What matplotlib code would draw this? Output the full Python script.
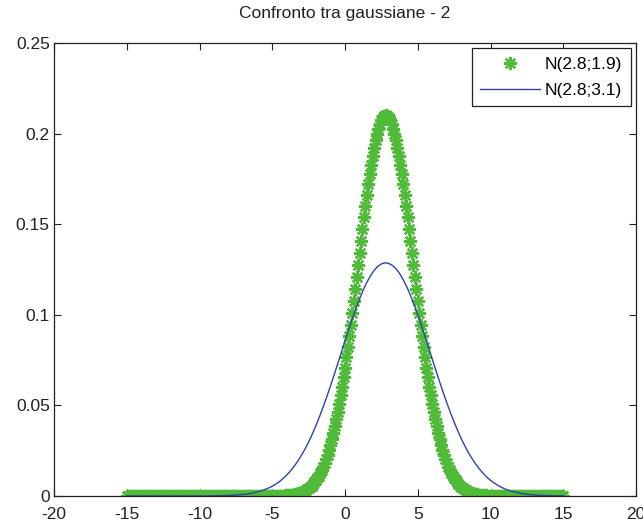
import numpy as np
import matplotlib
matplotlib.use("Agg")
import matplotlib.pyplot as plt

plt.rcParams['font.family'] = ['Liberation Sans', 'DejaVu Sans']

# ---- data ----
title = "Confronto tra gaussiane - 2"
labels = ["N(2.8;1.9)", "N(2.8;3.1)"]

# green series: x = -15 : 0.1 : 15 (301 samples), y in units of 1e-4
x_green = np.round(np.arange(-150, 151) / 10.0, 1)
y_green_e4 = (
    [0] * 101 +
    [1, 1, 1, 1, 1, 2, 2, 2, 3, 3, 4, 5, 6, 7, 9, 10, 12, 14, 17, 20, 23, 27, 32, 37, 43,
     50, 57, 66, 75, 86, 98, 112, 127, 144, 162, 182, 205, 229, 255, 284, 315, 349, 385,
     423, 465, 508, 555, 604, 655, 709, 765, 823, 884, 946, 1009, 1074, 1140, 1207, 1274,
     1340, 1407, 1473, 1538, 1601, 1661, 1720, 1776, 1828, 1877, 1922, 1962, 1998, 2028,
     2054, 2074, 2088, 2097, 2100, 2097, 2088, 2074, 2054, 2028, 1998, 1962, 1922, 1877,
     1828, 1776, 1720, 1661, 1601, 1538, 1473, 1407, 1340, 1274, 1207, 1140, 1074, 1009,
     946, 884, 823, 765, 709, 655, 604, 555, 508, 465, 423, 385, 349, 315, 284, 255, 229,
     205, 182, 162, 144, 127, 112, 98, 86, 75, 66, 57, 50, 43, 37, 32, 27, 23, 20, 17, 14,
     12, 10, 9, 7, 6, 5, 4, 3, 3, 2, 2, 2, 1, 1, 1, 1, 1] +
    [0] * 45
)
y_green = np.array(y_green_e4) / 1e4

# blue series: x = -15 : 0.25 : 15 (121 samples), y in units of 1e-4
x_blue = np.arange(-60, 61) / 4.0
y_blue_e4 = [0, 0, 0, 0, 0, 0, 0, 0, 0, 0, 0, 0, 0, 0, 0, 0, 0, 0, 0, 0, 0, 0, 0, 1, 1, 1,
             2, 2, 3, 4, 5, 7, 9, 11, 14, 18, 23, 29, 36, 44, 54, 66, 80, 97, 116, 138, 163,
             192, 224, 259, 298, 341, 388, 438, 492, 548, 607, 668, 730, 793, 856, 918, 977,
             1034, 1087, 1136, 1179, 1215, 1245, 1267, 1281, 1287, 1284, 1273, 1255, 1228,
             1194, 1154, 1107, 1056, 1000, 942, 881, 818, 755, 693, 631, 571, 514, 459, 408,
             360, 315, 274, 237, 204, 174, 148, 125, 104, 87, 72, 59, 48, 39, 31, 25, 20, 16,
             12, 10, 7, 6, 4, 3, 3, 2, 1, 1, 1, 1]
n_blue = min(len(x_blue), len(y_blue_e4))
x_blue = x_blue[:n_blue]
y_blue = np.array(y_blue_e4[:n_blue]) / 1e4

x_ticks = [-20, -15, -10, -5, 0, 5, 10, 15, 20]
y_ticks = [0, 0.05, 0.1, 0.15, 0.2, 0.25]
y_ticklabels = ["0", "0.05", "0.1", "0.15", "0.2", "0.25"]

# ---- figure ----
fig = plt.figure(figsize=(6.43, 5.22), dpi=100)
ax = fig.add_axes([54 / 643, 26 / 522, 582 / 643, 453 / 522])

green = "#50bb38"
blue = "#2c44a8"

ax.plot(x_green, y_green, linestyle="none", marker=(8, 2, 0), markersize=9.5,
        markeredgewidth=1.7, color=green, markeredgecolor=green, label=labels[0])
ax.plot(x_blue, y_blue, color=blue, linewidth=1.0, label=labels[1])

ax.set_xlim(-20, 20)
ax.set_ylim(0, 0.25)
ax.set_xticks(x_ticks)
ax.set_xticklabels([str(t) for t in x_ticks])
ax.set_yticks(y_ticks)
ax.set_yticklabels(y_ticklabels)
ax.tick_params(direction="in", top=True, right=True, length=5, width=0.8,
               labelsize=12.5, colors="#222222", labelcolor="#222222")
ax.tick_params(axis="x", pad=8)
ax.tick_params(axis="y", pad=3)
for s in ax.spines.values():
    s.set_linewidth(0.9)
    s.set_color("#222222")

ax.set_title(title, fontsize=12.5, color="#222222", pad=18)

leg = ax.legend(loc="upper right", fontsize=12.5, fancybox=False, framealpha=1,
                edgecolor="#222222", handlelength=3.4, borderpad=0.5,
                labelspacing=0.6, handletextpad=0.3, borderaxespad=0.3,
                markerfirst=True)
leg.get_frame().set_linewidth(0.9)

fig.savefig("out.png", dpi=100, facecolor="white")
